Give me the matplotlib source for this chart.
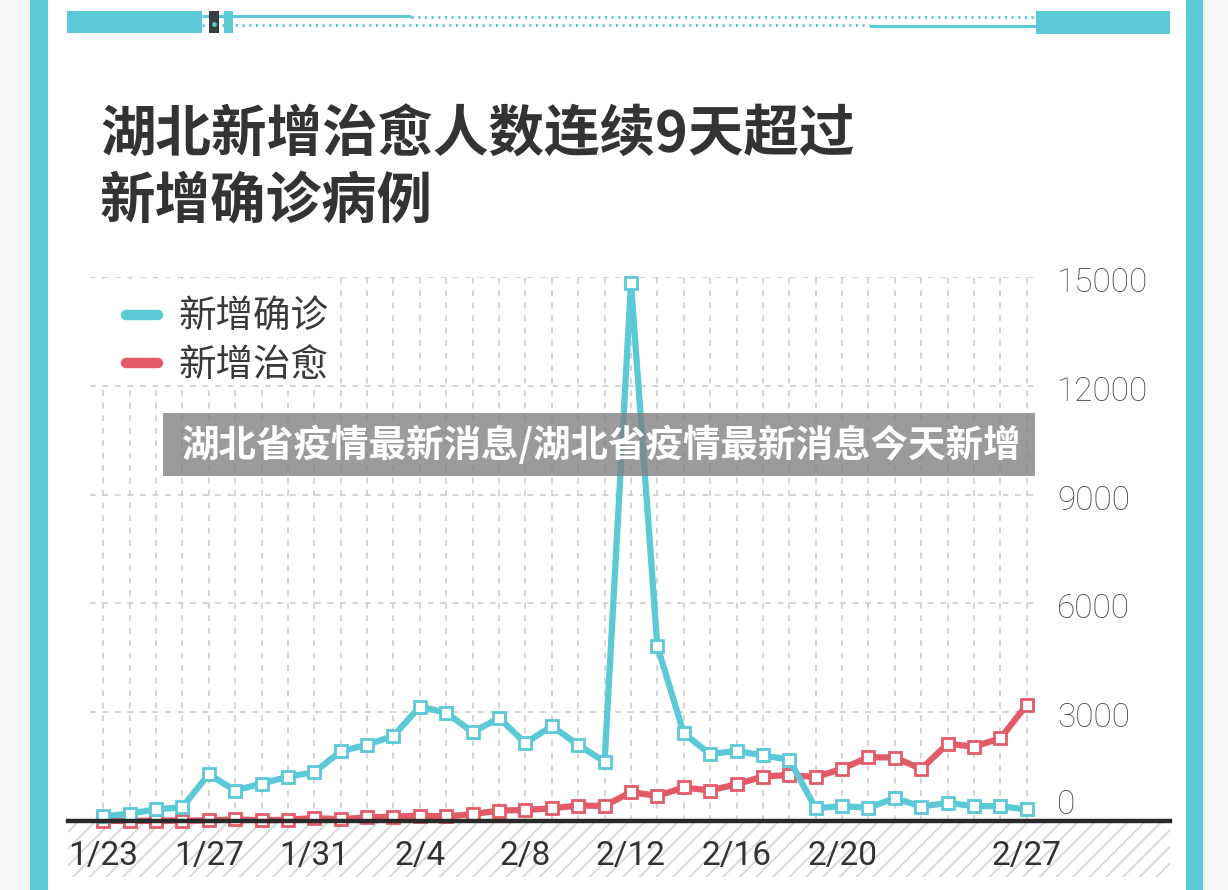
import matplotlib
matplotlib.use("Agg")
import matplotlib.pyplot as plt
from matplotlib.patches import Rectangle
from matplotlib.lines import Line2D
import matplotlib.transforms as mtransforms

# ---------------- data ----------------
dates = ['1/23', '1/24', '1/25', '1/26', '1/27', '1/28', '1/29', '1/30', '1/31',
         '2/1', '2/2', '2/3', '2/4', '2/5', '2/6', '2/7', '2/8', '2/9', '2/10',
         '2/11', '2/12', '2/13', '2/14', '2/15', '2/16', '2/17', '2/18', '2/19', '2/20',
         '2/21', '2/22', '2/23', '2/24', '2/25', '2/26', '2/27']
new_confirmed = [130, 200, 323, 380, 1291, 840, 1032, 1220, 1347,
                 1921, 2103, 2345, 3156, 2987, 2447, 2841, 2147, 2618, 2097,
                 1638, 14840, 4823, 2420, 1843, 1933, 1807, 1693, 349, 411,
                 366, 630, 398, 499, 411, 409, 318]
new_cured = [3, 1, 10, 12, 15, 45, 20, 35, 80,
             50, 100, 120, 150, 125, 190, 285, 305, 350, 425,
             417, 800, 690, 925, 840, 1015, 1225, 1270, 1210, 1440,
             1760, 1750, 1435, 2130, 2050, 2280, 3205]
shown_dates = ['1/23', '1/27', '1/31', '2/4', '2/8', '2/12', '2/16', '2/20', '2/27']
y_ticks = [0, 3000, 6000, 9000, 12000, 15000]
series_names = ['新增确诊', '新增治愈']
title_lines = ['湖北新增治愈人数连续9天超过', '新增确诊病例']
banner_text = '湖北省疫情最新消息/湖北省疫情最新消息今天新增'

# ---------------- style ----------------
TEAL = '#5BC9D6'
RED = '#E35B69'
GRID = '#cdcdcd'
CJK = ['Noto Sans CJK SC', 'DejaVu Sans']
NUM = ['Roboto', 'DejaVu Sans']
plt.rcParams['font.family'] = CJK
plt.rcParams['hatch.linewidth'] = 1.3

W, H = 1228, 890
fig = plt.figure(figsize=(W / 100, H / 100), dpi=100)
fig.patch.set_facecolor('#f7f7f6')

# background layer in pixel coordinates
bg = fig.add_axes([0, 0, 1, 1], zorder=0)
bg.set_xlim(0, W)
bg.set_ylim(H, 0)
bg.axis('off')
bg.add_patch(Rectangle((48, 0), 1138, H, facecolor='white', edgecolor='none'))
bg.add_patch(Rectangle((30, 0), 18, H, facecolor=TEAL, edgecolor='none'))
bg.add_patch(Rectangle((1186, 0), 17, H, facecolor=TEAL, edgecolor='none'))
# top decoration
bg.add_patch(Rectangle((67, 11), 135, 22, facecolor=TEAL, edgecolor='none'))
bg.add_patch(Rectangle((1036, 11), 134, 23, facecolor=TEAL, edgecolor='none'))
bg.add_patch(Rectangle((224, 11), 9, 22, facecolor=TEAL, edgecolor='none'))
bg.plot([202, 411], [15.5, 15.5], color=TEAL, lw=2.2, solid_capstyle='butt')
bg.plot([411, 1036], [16.5, 16.5], color=TEAL, lw=2.0, ls=(0, (0.8, 1.6)))
bg.plot([202, 870], [24.5, 24.5], color=TEAL, lw=2.0, ls=(0, (0.8, 1.6)))
bg.plot([870, 1036], [25.5, 25.5], color=TEAL, lw=2.2, solid_capstyle='butt')
bg.add_patch(Rectangle((209, 11), 10, 22, facecolor='#3b3f42', edgecolor='none', zorder=3))
bg.plot([214], [24], marker='o', ms=2.5, color=TEAL, zorder=4)
# hatched strip under the axis
bg.add_patch(Rectangle((68, 822), 1102, 55, facecolor='white', edgecolor='#d6d6d6',
                       lw=0, hatch='//'))
# title
bg.text(100, 136, title_lines[0], fontsize=40, fontweight='bold', color='#333333',
        va='center', ha='left')
bg.text(100, 202, title_lines[1], fontsize=40, fontweight='bold', color='#333333',
        va='center', ha='left')

# ---------------- main chart ----------------
x0, x1, ytop, ybot = 90, 1040, 277, 821
ax = fig.add_axes([x0 / W, 1 - ybot / H, (x1 - x0) / W, (ybot - ytop) / H], zorder=1)
ax.set_facecolor('none')
for s in ax.spines.values():
    s.set_visible(False)
xs = list(range(len(dates)))
ax.set_xlim(-0.5, len(dates) - 0.5)
ax.set_ylim(0, 15000)
ax.set_xticks(xs)
ax.set_xticklabels([d if d in shown_dates else '' for d in dates],
                   fontsize=24, color='#333333', family=NUM, fontweight='normal')
ax.tick_params(axis='x', length=0, pad=14)
ax.set_yticks(y_ticks)
ax.set_yticklabels([])
ax.tick_params(axis='y', length=0)
ax.grid(True, color=GRID, lw=1.2, ls=(0, (3.5, 4)), zorder=0)

# y labels on the right
for v in y_ticks:
    dy = 16 if v == 0 else -6
    tr = ax.get_yaxis_transform() + mtransforms.ScaledTranslation(0, dy / 100, fig.dpi_scale_trans)
    ax.text(1.018, v, f'{v}', transform=tr, fontsize=24, color='#4a4a4a',
            family=NUM, fontweight='light', va='center', ha='left')

# white legend backdrop hiding vertical grid lines
ax.add_patch(Rectangle((-0.5, 12060), 9.1, 2880, facecolor='white', edgecolor='none', zorder=2))

ax.plot(xs, new_cured, color=RED, lw=4.5, marker='s', ms=9, mfc='white', mec=RED,
        mew=2.0, zorder=3, clip_on=False)
ax.plot(xs, new_confirmed, color=TEAL, lw=4.5, marker='s', ms=9, mfc='white', mec=TEAL,
        mew=2.0, zorder=4, clip_on=False)
ax.axhline(0, xmin=(68 - x0) / (x1 - x0), xmax=(1170 - x0) / (x1 - x0), color='#2a2a2a',
           lw=3.2, zorder=6, clip_on=False)

handles = [Line2D([], [], color=TEAL, lw=7.5, solid_capstyle='round'),
           Line2D([], [], color=RED, lw=7.5, solid_capstyle='round')]
leg = ax.legend(handles, series_names, loc='upper left',
                bbox_to_anchor=((126 - x0) / (x1 - x0), (ybot - 298) / (ybot - ytop)),
                frameon=False, fontsize=27, handlelength=0.85, handletextpad=0.55,
                labelspacing=0.25, borderpad=0, borderaxespad=0)
for t in leg.get_texts():
    t.set_color('#3a3a3a')

# ---------------- overlay banner ----------------
ov = fig.add_axes([0, 0, 1, 1], zorder=10)
ov.set_xlim(0, W)
ov.set_ylim(H, 0)
ov.axis('off')
ov.patch.set_alpha(0)
ov.add_patch(Rectangle((163, 413), 872, 63, facecolor='#7f7f7f', alpha=0.78, edgecolor='none'))
ov.text(182, 445, banner_text, fontsize=27, fontweight='heavy', color='white',
        va='center', ha='left')

fig.savefig('out.png', dpi=100)
